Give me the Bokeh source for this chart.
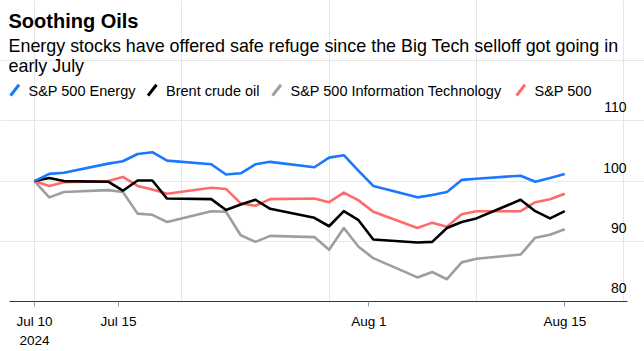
import pandas as pd
from bokeh.plotting import figure
from bokeh.models import Range1d, FixedTicker, Grid, LinearAxis, CustomJSTickFormatter
from bokeh.core.properties import value
from bokeh.embed import file_html
from bokeh.resources import INLINE

# ---------------- data ----------------
dates = ["2024-07-10", "2024-07-11", "2024-07-12", "2024-07-15", "2024-07-16",
         "2024-07-17", "2024-07-18", "2024-07-19", "2024-07-22", "2024-07-23",
         "2024-07-24", "2024-07-25", "2024-07-26", "2024-07-29", "2024-07-30",
         "2024-07-31", "2024-08-01", "2024-08-02", "2024-08-05", "2024-08-06",
         "2024-08-07", "2024-08-08", "2024-08-09", "2024-08-12", "2024-08-13",
         "2024-08-14", "2024-08-15"]
energy = [100, 101.2, 101.4, 102.9, 103.3, 104.5, 104.8, 103.4, 102.8, 101.1,
          101.3, 102.8, 103.2, 102.3, 103.9, 104.3, 101.7, 99.2, 97.3, 97.7,
          98.2, 100.2, 100.4, 100.9, 99.9, 100.5, 101.2]
brent = [100, 100.5, 100.0, 99.9, 98.4, 100.1, 100.1, 97.1, 97.0, 95.2,
         96.1, 96.9, 95.4, 93.9, 92.5, 95.0, 93.5, 90.3, 89.8, 89.9,
         92.2, 93.2, 93.8, 96.9, 95.0, 93.8, 95.0]
tech = [100, 97.3, 98.2, 98.5, 98.2, 94.6, 94.4, 93.2, 95.0, 94.9,
        91.0, 89.9, 90.9, 90.7, 88.6, 92.2, 89.1, 87.2, 84.0, 84.9,
        83.7, 86.5, 87.1, 87.8, 90.6, 91.1, 92.0]
spx = [100, 99.2, 99.8, 100.0, 100.7, 99.2, 98.6, 97.9, 98.9, 98.7,
       96.3, 95.9, 97.0, 97.1, 96.5, 98.1, 96.8, 94.9, 92.2, 93.1,
       92.4, 94.5, 95.0, 95.0, 96.5, 97.0, 97.9]
series_names = ["S&P 500 Energy", "Brent crude oil",
                "S&P 500 Information Technology", "S&P 500"]
y_ticks = [80, 90, 100, 110]
x_tick_dates = ["2024-07-10", "2024-07-15", "2024-08-01", "2024-08-15"]
x_tick_labels = ["Jul 10\n2024", "Jul 15", "Aug 1", "Aug 15"]
title_text = "Soothing Oils"
subtitle_lines = ["Energy stocks have offered safe refuge since the Big Tech selloff got going in",
                  "early July"]

# ---------------- layout / style ----------------
W, H = 644, 351
FRAME_H = 302
BOTTOM = H - FRAME_H
PX_PER_DAY = 14.73
X0_PX = 34.0          # pixel position of the first date
Y_LO, Y_HI = 80, 130
FONT = "Liberation Sans"
colors = {"energy": "#1a78ff", "brent": "#000000", "tech": "#9e9e9e", "spx": "#ff6b6b"}
tick_shift = [0.0, 0.7, 0.7, 0.0]   # reference places mid ticks slightly right


def px2x(px):
    return (px - X0_PX) / PX_PER_DAY


def py2y(py):
    return Y_HI - py * (Y_HI - Y_LO) / FRAME_H


base = pd.Timestamp(dates[0])
xs = [(pd.Timestamp(d) - base).days for d in dates]
tick_pos = [(pd.Timestamp(d) - base).days + s for d, s in zip(x_tick_dates, tick_shift)]

x_start = px2x(0)
x_end = px2x(W)

p = figure(width=W, height=H, x_range=Range1d(x_start, x_end), y_range=Range1d(Y_LO, Y_HI),
           output_backend="svg", toolbar_location=None,
           x_axis_location=None, y_axis_location=None)
p.min_border_left = 0
p.min_border_right = 0
p.min_border_top = 0
p.min_border_bottom = BOTTOM
p.outline_line_color = None
p.background_fill_color = "white"
p.border_fill_color = "white"

grid_bounds = (px2x(9), px2x(627))
grid = Grid(dimension=1, ticker=FixedTicker(ticks=y_ticks), bounds=grid_bounds,
            grid_line_color="#e9e9e9", grid_line_width=1)
p.add_layout(grid)

xaxis = LinearAxis(ticker=FixedTicker(ticks=tick_pos),
                   formatter=CustomJSTickFormatter(args=dict(labels=x_tick_labels),
                                                   code="return labels[index];"),
                   bounds=grid_bounds)
xaxis.axis_line_color = "#333333"
xaxis.axis_line_width = 1
xaxis.major_tick_line_color = "#999999"
xaxis.major_tick_in = 0
xaxis.major_tick_out = 5
xaxis.minor_tick_line_color = None
xaxis.major_label_standoff = 7
xaxis.major_label_text_font = FONT
xaxis.major_label_text_font_size = "13.5px"
xaxis.major_label_text_color = "#000000"
xaxis.major_label_text_line_height = 1.33
p.add_layout(xaxis, "below")

# lines (drawing order: gray, red, black, blue)
for key, ys in [("tech", tech), ("spx", spx), ("brent", brent), ("energy", energy)]:
    p.line(xs, ys, line_color=colors[key], line_width=2.6, line_join="round")

# y tick labels above gridlines, right aligned
p.text(x=[px2x(626)] * len(y_ticks), y=y_ticks, text=[str(v) for v in y_ticks],
       text_align="right", text_baseline="alphabetic", y_offset=-13.5,
       text_font=value(FONT), text_font_size="14px", text_color="#000000")

# title & subtitle
TEXT_UP = 4.5
p.text(x=[px2x(8)], y=[py2y(25 - TEXT_UP)], text=[title_text], text_align="left",
       text_baseline="alphabetic", text_font=value(FONT), text_font_size="20px",
       text_font_style="bold", text_color="#000000")
p.text(x=[px2x(8)] * 2, y=[py2y(50 - TEXT_UP), py2y(70 - TEXT_UP)], text=subtitle_lines,
       text_align="left", text_baseline="alphabetic", text_font=value(FONT),
       text_font_size="17.9px", text_color="#000000")

# legend
legend_text_px = [28, 165.5, 290, 534]
legend_colors = [colors["energy"], colors["brent"], colors["tech"], colors["spx"]]
for name, tx, c in zip(series_names, legend_text_px, legend_colors):
    p.segment(x0=[px2x(tx - 18)], y0=[py2y(95.5)], x1=[px2x(tx - 9.5)], y1=[py2y(84.5)],
              line_color=c, line_width=3)
    p.text(x=[px2x(tx)], y=[py2y(95 - TEXT_UP)], text=[name], text_align="left",
           text_baseline="alphabetic", text_font=value(FONT), text_font_size="14.5px",
           text_color="#000000")

open("out.html", "w").write(file_html(p, INLINE))
